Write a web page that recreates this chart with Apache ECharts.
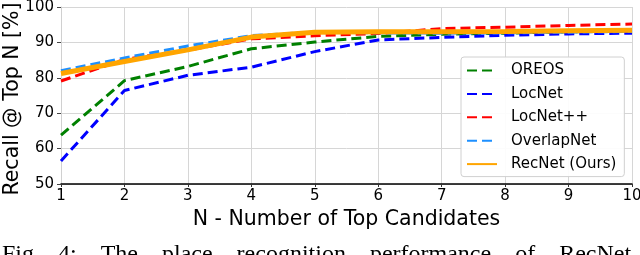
<!DOCTYPE html>
<html>
<head>
<meta charset="utf-8">
<script src="https://cdn.jsdelivr.net/npm/echarts@6/dist/echarts.min.js"></script>
<style>
html,body{margin:0;padding:0;background:#fff;overflow:hidden;}
#chart{width:640px;height:255px;}
</style>
</head>
<body>
<div id="chart"></div>
<script>
const nValues = [1, 2, 3, 4, 5, 6, 7, 8, 9, 10];
const oreos = [63.8, 79.2, 83.2, 88.2, 90.1, 91.7, 92.3, 92.6, 93.0, 93.3];
const locnet = [56.5, 76.4, 80.7, 83.0, 87.4, 90.7, 91.4, 92.0, 92.4, 92.6];
const locnetpp = [79.1, 85.2, 87.8, 91.0, 91.9, 92.5, 93.9, 94.3, 94.8, 95.2];
const overlapnet = [82.0, 85.6, 89.0, 91.9, 92.9, 92.7, 92.6, 92.7, 92.9, 93.1];
const recnet = [81.2, 84.6, 87.9, 91.5, 92.9, 93.0, 93.0, 93.1, 93.3, 93.4];
const seriesNames = ['OREOS', 'LocNet', 'LocNet++', 'OverlapNet', 'RecNet (Ours)'];
const xAxisTitle = 'N - Number of Top Candidates';
const yAxisTitle = 'Recall @ Top N [%]';
const captionText = 'Fig.   4:    The    place    recognition    performance    of    RecNet';

const pairs = arr => nValues.map((n, i) => [n, arr[i]]);
const font = 'DejaVu Sans';

function dashed(name, arr, color) {
  return {
    name: name, type: 'line', data: pairs(arr), symbol: 'none', smooth: false,
    lineStyle: { color: color, width: 3, type: [10, 5], cap: 'butt' },
    itemStyle: { color: color }
  };
}

const chart = echarts.init(document.getElementById('chart'), null, { renderer: 'canvas' });
chart.setOption({
  animation: false,
  backgroundColor: '#ffffff',
  grid: { left: 61, right: 8, top: 7, bottom: 71, containLabel: false, outerBoundsMode: 'none' },
  xAxis: {
    type: 'value', min: 1, max: 10, interval: 1,
    name: xAxisTitle, nameLocation: 'middle', nameGap: 23,
    nameTextStyle: { fontFamily: font, fontSize: 20.5, color: '#000' },
    axisLine: { lineStyle: { color: '#000', width: 1.5 } },
    axisTick: { show: true, length: 3, lineStyle: { color: '#333' } },
    axisLabel: { fontFamily: font, fontSize: 15, color: '#000', margin: 5 },
    splitLine: { show: true, lineStyle: { color: '#d6d6d6', width: 1 } }
  },
  yAxis: {
    type: 'value', min: 50, max: 100, interval: 10,
    axisLine: { show: true, lineStyle: { color: '#d0d0d0', width: 1 } },
    axisTick: { show: true, length: 4, lineStyle: { color: '#444' } },
    axisLabel: { fontFamily: font, fontSize: 15, color: '#000', margin: 7 },
    splitLine: { show: true, lineStyle: { color: '#d6d6d6', width: 1 } }
  },
  legend: {
    orient: 'vertical', left: 461, top: 57,
    data: seriesNames,
    itemWidth: 30, itemHeight: 14, itemGap: 8.4,
    padding: [6, 8, 5, 5],
    backgroundColor: 'rgba(255,255,255,0.92)',
    borderColor: '#d0d0d0', borderWidth: 1, borderRadius: 3,
    itemStyle: { opacity: 0, borderWidth: 0 },
    textStyle: { fontFamily: font, fontSize: 15, color: '#000', lineHeight: 14, padding: [0, 0, 0, 9] }
  },
  graphic: [{
    type: 'text', x: 13, y: 99, rotation: Math.PI / 2,
    style: { text: yAxisTitle, fontFamily: font, fontSize: 20.5, fill: '#000', align: 'center', verticalAlign: 'middle' }
  }, {
    type: 'text', left: 2, top: 243,
    style: { text: captionText, fontFamily: 'Liberation Serif', fontSize: 24, fill: '#000' }
  }],
  series: [
    dashed(seriesNames[0], oreos, '#008000'),
    dashed(seriesNames[1], locnet, '#0000ff'),
    dashed(seriesNames[2], locnetpp, '#ff0000'),
    dashed(seriesNames[3], overlapnet, '#1e90ff'),
    {
      name: seriesNames[4], type: 'line', data: pairs(recnet), symbol: 'none',
      lineStyle: { color: '#ffa500', width: 5 }, itemStyle: { color: '#ffa500' }
    }
  ]
});
</script>
</body>
</html>
